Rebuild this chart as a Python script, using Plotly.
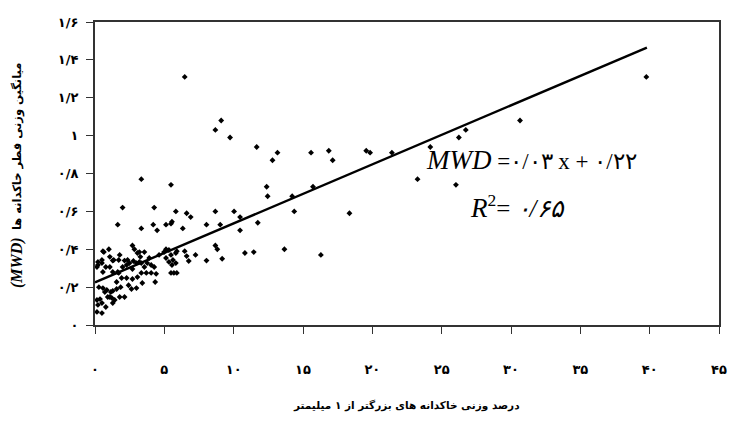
import plotly.graph_objects as go

# Scatter data: % of aggregates > 1 mm (x) vs MWD (y)
x_pct = [
    6.47, 39.76, 9.10, 30.65, 8.68, 26.74, 9.74, 26.24, 24.18, 11.66,
    16.86, 19.56, 13.16, 15.58, 19.84, 21.41, 12.80, 17.14, 3.34, 23.26,
    5.48, 26.03, 12.38, 15.72, 12.45, 14.22, 1.99, 4.27, 5.83, 8.68,
    10.03, 14.37, 18.35, 6.61, 6.90, 10.46, 1.64, 4.20, 5.12, 8.04,
    9.03, 5.48, 5.55, 11.74, 3.34, 6.33, 4.48, 10.46, 8.68, 8.82,
    9.17, 8.04, 10.81, 11.45, 13.66, 16.29, 7.25,
    0.64, 1.00, 1.07, 1.28, 1.78, 2.13, 2.35, 2.70, 2.84, 3.06,
    3.27, 3.56, 0.21, 0.50, 0.78, 1.07, 0.57, 1.28, 1.71, 1.99,
    2.28, 2.49, 2.70, 2.99, 3.34, 3.56, 3.77, 4.05, 4.27, 4.41,
    4.34, 4.05, 3.70, 3.34, 3.06, 2.70, 2.28, 1.56, 1.85, 2.42,
    2.63, 2.99, 3.41, 0.28, 0.57, 0.85, 1.14, 1.28, 1.56, 0.92,
    1.21, 1.42, 1.78, 2.13, 0.14, 0.36, 0.50, 0.21, 0.78, 0.14,
    0.50,
    4.62, 4.98, 5.12, 5.33, 5.48, 5.12, 5.83, 5.90, 5.62, 5.33,
    5.83, 5.55, 5.48, 5.69, 5.90, 6.47, 6.61, 6.76,
    0.14, 0.71, 1.07, 1.28, 1.64, 0.57, 3.20, 3.91, 1.92, 2.77,
    3.20, 1.35, 1.71, 0.50, 0.21,
]
mwd = [
    1.31, 1.31, 1.08, 1.08, 1.03, 1.03, 0.99, 0.99, 0.94, 0.94,
    0.92, 0.92, 0.91, 0.91, 0.91, 0.91, 0.87, 0.87, 0.77, 0.77,
    0.74, 0.74, 0.73, 0.73, 0.68, 0.68, 0.62, 0.62, 0.60, 0.60,
    0.60, 0.60, 0.59, 0.59, 0.57, 0.57, 0.53, 0.53, 0.53, 0.53,
    0.53, 0.535, 0.545, 0.54, 0.51, 0.51, 0.50, 0.50, 0.42, 0.40,
    0.35, 0.34, 0.38, 0.385, 0.40, 0.37, 0.37,
    0.385, 0.40, 0.36, 0.34, 0.37, 0.34, 0.343, 0.42, 0.40, 0.38,
    0.36, 0.385, 0.317, 0.327, 0.306, 0.306, 0.28, 0.28, 0.275, 0.306,
    0.317, 0.327, 0.296, 0.327, 0.327, 0.306, 0.327, 0.317, 0.306, 0.27,
    0.227, 0.275, 0.275, 0.275, 0.253, 0.243, 0.248, 0.227, 0.20, 0.21,
    0.19, 0.195, 0.222, 0.20, 0.195, 0.185, 0.174, 0.18, 0.19, 0.148,
    0.143, 0.132, 0.148, 0.148, 0.132, 0.137, 0.116, 0.106, 0.095, 0.069,
    0.063,
    0.37, 0.385, 0.40, 0.396, 0.37, 0.354, 0.38, 0.39, 0.343, 0.333,
    0.327, 0.317, 0.275, 0.275, 0.275, 0.39, 0.364, 0.338,
    0.306, 0.174, 0.148, 0.116, 0.28, 0.39, 0.385, 0.354, 0.248, 0.338,
    0.333, 0.343, 0.343, 0.343, 0.333,
]

# Trend line end points (MWD = 0.03x + 0.22)
trend_x = [0, 39.8]
trend_y = [0.225, 1.465]

x_ticks = [0, 5, 10, 15, 20, 25, 30, 35, 40, 45]
x_tick_labels = ["۰", "۵", "۱۰", "۱۵", "۲۰", "۲۵", "۳۰", "۳۵", "۴۰", "۴۵"]
y_ticks = [0, 0.2, 0.4, 0.6, 0.8, 1.0, 1.2, 1.4, 1.6]
y_tick_labels = ["۰", "۰/۲", "۰/۴", "۰/۶", "۰/۸", "۱", "۱/۲", "۱/۴", "۱/۶"]

x_title = "درصد وزنی خاکدانه های بزرگتر از ۱ میلیمتر"
y_title = "میانگین وزنی قطر خاکدانه ها"
y_title_abbr = "(MWD)"
equation = "<i><span style='font-size:27px'>MWD</span></i> =۰/۰۳ x + ۰/۲۲"
r2_text = "<i><span style='font-size:27px'>R</span></i><sup>2</sup>= <i>۰/۶۵</i>"

OFF = 8  # default body margin of the html page (page fits exactly: 8 + fig + 8)
W, H = 740 - 2 * OFF, 436 - 2 * OFF
PL, PR, PT, PB = 95, 727, 22, 325   # plot area in page pixels
L, T = PL - OFF, PT - OFF
R = W - (PR - OFF)
B = H - (PB - OFF)
PW, PH = PR - PL, PB - PT

def px(xp):
    return (xp - PL) / PW

def py(yp):
    return (PB - yp) / PH

fig = go.Figure()
fig.add_trace(go.Scatter(
    x=x_pct, y=mwd, mode="markers",
    marker=dict(symbol="diamond", size=4.5, color="black", line=dict(width=0)),
    showlegend=False, hoverinfo="skip"))
fig.add_trace(go.Scatter(
    x=trend_x, y=trend_y, mode="lines",
    line=dict(color="black", width=2.4),
    showlegend=False, hoverinfo="skip"))

tickfont = dict(family="DejaVu Sans", size=13, color="black", weight="bold")

fig.update_layout(
    width=W, height=H,
    margin=dict(l=L, r=R, t=T, b=B, pad=0),
    paper_bgcolor="white", plot_bgcolor="white",
    xaxis=dict(
        range=[0, 45], tickmode="array", tickvals=x_ticks, ticktext=x_tick_labels,
        ticks="outside", ticklen=7, tickwidth=1, tickcolor="#333",
        showline=True, linecolor="#333", linewidth=2, mirror=True,
        showgrid=False, zeroline=False, tickfont=tickfont,
        ticklabelstandoff=24, ticklabeloverflow="allow", fixedrange=True),
    yaxis=dict(
        range=[0, 1.6], tickmode="array", tickvals=y_ticks, ticktext=y_tick_labels,
        ticks="outside", ticklen=7, tickwidth=1, tickcolor="#333",
        showline=True, linecolor="#333", linewidth=2, mirror=True,
        showgrid=False, zeroline=False, tickfont=tickfont,
        ticklabelstandoff=5, ticklabeloverflow="allow", fixedrange=True),
    font=dict(family="DejaVu Sans", color="black"),
)

annotations = [
    dict(text=x_title, xref="paper", yref="paper", x=px(410), y=py(405),
         showarrow=False, xanchor="center", yanchor="middle",
         font=dict(family="DejaVu Sans", size=10.5, color="black", weight="bold")),
    dict(text=y_title, xref="paper", yref="paper", x=px(16), y=py(147),
         showarrow=False, xanchor="center", yanchor="middle", textangle=-90,
         font=dict(family="DejaVu Sans", size=11.5, color="black", weight="bold")),
    dict(text="<b><i>" + y_title_abbr + "</i></b>", xref="paper", yref="paper",
         x=px(16), y=py(263), showarrow=False, xanchor="center", yanchor="middle",
         textangle=-90,
         font=dict(family="Liberation Serif", size=16, color="black")),
    dict(text=equation, xref="paper", yref="paper", x=px(537), y=py(160),
         showarrow=False, xanchor="center", yanchor="middle",
         font=dict(family="Liberation Serif", size=23, color="black")),
    dict(text=r2_text, xref="paper", yref="paper", x=px(523), y=py(207),
         showarrow=False, xanchor="center", yanchor="middle",
         font=dict(family="Liberation Serif", size=25, color="black")),
]
fig.update_layout(annotations=annotations)

fig.write_html(
    "out.html",
    config={"displayModeBar": False},
    post_script="document.querySelectorAll('svg.main-svg').forEach(function(s){s.style.overflow='visible';});",
)
